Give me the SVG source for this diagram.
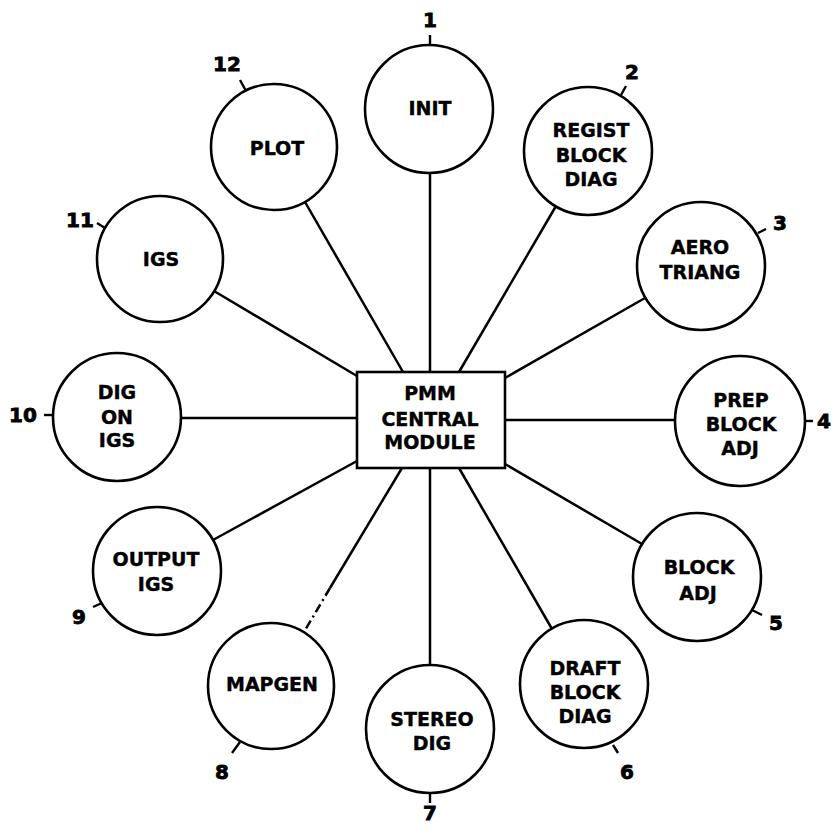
<svg xmlns="http://www.w3.org/2000/svg" width="833" height="831" viewBox="0 0 833 831">
<style>
.n circle{fill:#fff;stroke:#000;stroke-width:2.6}
.n rect{fill:#fff;stroke:#000;stroke-width:2.6}
text{font-family:"DejaVu Sans","Liberation Sans",sans-serif;font-weight:bold;font-size:19px;fill:#000;stroke:#000;stroke-width:0.4;text-anchor:middle}
.num{font-size:20px;stroke-width:0.8}
.c line{stroke:#000;stroke-width:2.5}
.t line{stroke:#000;stroke-width:2.4}
</style>
<rect width="833" height="831" fill="#fff"/>
<g id="connectors" class="c">
<line x1="430" y1="372" x2="430" y2="173"/>
<line x1="459" y1="372" x2="556" y2="206"/>
<line x1="505" y1="378" x2="645" y2="298"/>
<line x1="505" y1="420" x2="676" y2="420"/>
<line x1="505" y1="464" x2="642" y2="544"/>
<line x1="459" y1="468" x2="552" y2="629"/>
<line x1="430" y1="468" x2="430" y2="665"/>
<line x1="402" y1="468" x2="330" y2="588"/>
<line x1="330" y1="588" x2="304" y2="632" stroke-dasharray="9,4,2,4"/>
<line x1="357" y1="461" x2="213" y2="540"/>
<line x1="357" y1="418" x2="181" y2="418"/>
<line x1="357" y1="376" x2="214" y2="291"/>
<line x1="403" y1="372" x2="305" y2="202"/>
</g>
<g id="ticks" class="t">
<line x1="430" y1="45" x2="430" y2="35"/>
<line x1="621" y1="95" x2="626" y2="86"/>
<line x1="758" y1="233" x2="766" y2="229"/>
<line x1="805" y1="421" x2="813" y2="421"/>
<line x1="752" y1="610" x2="762" y2="615"/>
<line x1="613" y1="745" x2="618" y2="753"/>
<line x1="430" y1="793" x2="430" y2="803"/>
<line x1="240" y1="742" x2="232" y2="753"/>
<line x1="102" y1="603" x2="93" y2="607"/>
<line x1="53" y1="415" x2="44" y2="415"/>
<line x1="105" y1="228" x2="97" y2="223"/>
<line x1="246" y1="91" x2="240" y2="80"/>
</g>
<g id="central" class="n">
<rect x="357" y="372" width="148" height="96"/>
<text x="430" y="400">PMM</text>
<text x="430" y="426">CENTRAL</text>
<text x="430" y="449">MODULE</text>
</g>
<g id="n1" class="n">
<circle cx="429" cy="109" r="64"/>
<text x="430" y="115">INIT</text>
<text class="num" x="430" y="27">1</text>
</g>
<g id="n2" class="n">
<circle cx="588" cy="151" r="64"/>
<text x="591" y="137">REGIST</text>
<text x="591" y="162">BLOCK</text>
<text x="591" y="186">DIAG</text>
<text class="num" x="632" y="79">2</text>
</g>
<g id="n3" class="n">
<circle cx="701" cy="266" r="64"/>
<text x="700" y="254">AERO</text>
<text x="700" y="279">TRIANG</text>
<text class="num" x="780" y="230">3</text>
</g>
<g id="n4" class="n">
<circle cx="740" cy="421" r="65"/>
<text x="741" y="407">PREP</text>
<text x="741" y="431">BLOCK</text>
<text x="740" y="455">ADJ</text>
<text class="num" x="817" y="428" style="text-anchor:start">4</text>
</g>
<g id="n5" class="n">
<circle cx="697" cy="577" r="64"/>
<text x="699" y="574">BLOCK</text>
<text x="698" y="600">ADJ</text>
<text class="num" x="776" y="630">5</text>
</g>
<g id="n6" class="n">
<circle cx="584" cy="684" r="64"/>
<text x="585" y="675">DRAFT</text>
<text x="585" y="699">BLOCK</text>
<text x="585" y="723">DIAG</text>
<text class="num" x="627" y="779">6</text>
</g>
<g id="n7" class="n">
<circle cx="430" cy="729" r="64"/>
<text x="432" y="726">STEREO</text>
<text x="432" y="750">DIG</text>
<text class="num" x="430" y="820">7</text>
</g>
<g id="n8" class="n">
<circle cx="271" cy="686" r="63"/>
<text x="272" y="691">MAPGEN</text>
<text class="num" x="222" y="779">8</text>
</g>
<g id="n9" class="n">
<circle cx="157" cy="571" r="64"/>
<text x="156" y="566">OUTPUT</text>
<text x="156" y="591">IGS</text>
<text class="num" x="79" y="624">9</text>
</g>
<g id="n10" class="n">
<circle cx="117" cy="417" r="64"/>
<text x="117" y="399">DIG</text>
<text x="117" y="424">ON</text>
<text x="117" y="447">IGS</text>
<text class="num" x="23" y="422">10</text>
</g>
<g id="n11" class="n">
<circle cx="160" cy="259" r="63"/>
<text x="161" y="266">IGS</text>
<text class="num" x="80" y="227">11</text>
</g>
<g id="n12" class="n">
<circle cx="274" cy="147" r="63"/>
<text x="277" y="155">PLOT</text>
<text class="num" x="227" y="71">12</text>
</g>
</svg>
